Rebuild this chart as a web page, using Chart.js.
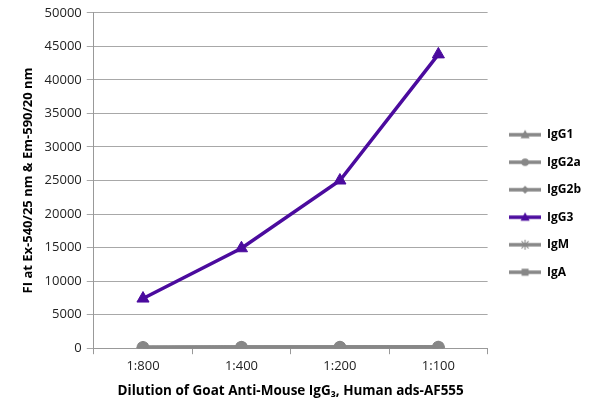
<!DOCTYPE html>
<html><head><meta charset="utf-8">
<script src="https://cdn.jsdelivr.net/npm/chart.js@4.4.1/dist/chart.umd.min.js"></script>
<style>html,body{margin:0;padding:0;background:#fff}#wrap{width:600px;height:416px}</style>
</head><body><div id="wrap"><canvas id="c"></canvas></div>
<script>
const categories = ['1:800','1:400','1:200','1:100'];
const seriesNames = ['IgG1','IgG2a','IgG2b','IgG3','IgM','IgA'];
const IgG1 = [120, 150, 160, 170];
const IgG2a = [100, 130, 140, 150];
const IgG2b = [110, 140, 150, 160];
const IgG3 = [7400, 14900, 25000, 43800];
const IgM = [90, 120, 130, 140];
const IgA = [100, 130, 140, 150];
const yTicks = [0,5000,10000,15000,20000,25000,30000,35000,40000,45000,50000];

const GRAY = '#878787';
const PURPLE = '#4b0b9e';
const seriesValues = [IgG1, IgG2a, IgG2b, IgG3, IgM, IgA];
const styles = ['triangle','circle','rectRot','triangle','star','rect'];
const colors = [GRAY, GRAY, GRAY, PURPLE, GRAY, GRAY];
const FONT = '"Open Sans", "Liberation Sans", sans-serif';

function legendIcon(color, style) {
  const cv = document.createElement('canvas');
  cv.width = 32; cv.height = 12;
  const g = cv.getContext('2d');
  g.strokeStyle = color; g.lineWidth = 3.5;
  g.beginPath(); g.moveTo(0,6); g.lineTo(32,6); g.stroke();
  g.fillStyle = color;
  g.beginPath();
  if (style === 'triangle') { g.moveTo(16,1); g.lineTo(20.5,9.5); g.lineTo(11.5,9.5); g.closePath(); g.fill(); }
  else if (style === 'circle') { g.arc(16,6,3.8,0,Math.PI*2); g.fill(); }
  else if (style === 'rectRot') { g.moveTo(16,2); g.lineTo(20,6); g.lineTo(16,10); g.lineTo(12,6); g.closePath(); g.fill(); }
  else if (style === 'rect') { g.rect(12.5,2.5,7,7); g.fill(); }
  else if (style === 'star') {
    g.lineWidth = 1.1;
    for (let a = 0; a < 4; a++) { const t = a*Math.PI/4; g.moveTo(16-5*Math.cos(t),6-5*Math.sin(t)); g.lineTo(16+5*Math.cos(t),6+5*Math.sin(t)); }
    g.stroke();
  }
  return cv;
}
const icons = seriesNames.map((n,i) => legendIcon(colors[i], styles[i]));

const datasets = seriesNames.map((name, i) => ({
  label: name,
  data: seriesValues[i],
  borderColor: colors[i],
  backgroundColor: colors[i],
  borderWidth: 3.5,
  pointStyle: styles[i],
  pointRadius: i===3 ? 7 : 6,
  pointBorderWidth: styles[i]==='star' ? 2 : 1,
  pointBorderColor: colors[i],
  pointBackgroundColor: colors[i],
  tension: 0,
  fill: false,
  order: i===3 ? -1 : i
}));

const legendShift = {
  id: 'legendShift',
  afterLayout(chart) {
    const lg = chart.legend;
    if (lg) { lg.left += 6; lg.right += 6; lg.top -= 3; lg.bottom -= 3; }
  }
};

new Chart(document.getElementById('c'), {
  type: 'line',
  data: { labels: categories, datasets },
  plugins: [legendShift],
  options: {
    responsive: true, maintainAspectRatio: false, animation: false,
    layout: { padding: { top: 10, left: 16, right: 15, bottom: 13 } },
    plugins: {
      tooltip: { enabled: false },
      legend: {
        position: 'right',
        align: 'center',
        labels: {
          usePointStyle: true,
          pointStyleWidth: 32,
          padding: 15.5,
          color: '#000',
          font: { family: FONT, size: 12, weight: 'bold' },
          generateLabels: (chart) => seriesNames.map((n, i) => ({
            text: n, pointStyle: icons[i], fillStyle: colors[i], strokeStyle: colors[i],
            lineWidth: 0, hidden: false, datasetIndex: i, fontColor: '#000'
          }))
        }
      }
    },
    scales: {
      x: {
        offset: true,
        grid: { offset: true, drawOnChartArea: false, drawTicks: true, tickLength: 6, color: '#999' },
        border: { color: '#999', width: 1 },
        ticks: { color: '#222', font: { family: FONT, size: 13 }, padding: 4 },
        title: { display: true, text: 'Dilution of Goat Anti-Mouse IgG₃, Human ads-AF555', color: '#000',
                 font: { family: FONT, size: 13.5, weight: 'bold' }, padding: { top: 5 } }
      },
      y: {
        min: 0, max: 50000,
        afterBuildTicks: (axis) => { axis.ticks = yTicks.map(v => ({ value: v })); },
        grid: { color: '#a8a8a8', tickLength: 7, lineWidth: 1 },
        border: { color: '#999', width: 1 },
        ticks: { color: '#222', font: { family: FONT, size: 13 }, padding: 5, callback: (v) => String(v) },
        title: { display: true, text: 'FI at Ex-540/25 nm & Em-590/20 nm', color: '#000',
                 font: { family: FONT, size: 13, weight: 'bold' }, padding: { bottom: 4 } }
      }
    }
  }
});
</script></body></html>
